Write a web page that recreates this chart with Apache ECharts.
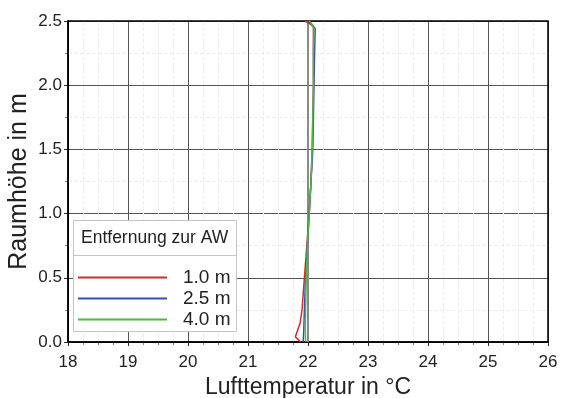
<!DOCTYPE html>
<html><head><meta charset="utf-8">
<script src="https://cdn.jsdelivr.net/npm/echarts@6/dist/echarts.min.js"></script>
<style>html,body{margin:0;padding:0;background:#fff}#c{width:561px;height:398px}</style>
</head><body><div id="c"></div>
<script>
const heights1 = [0.00, 0.04, 0.15, 0.25, 0.50, 0.75, 1.00, 1.25, 1.50, 1.75, 2.00, 2.25, 2.45, 2.47, 2.50];
const temps1   = [21.88, 21.79, 21.87, 21.90, 21.94, 21.98, 22.02, 22.05, 22.07, 22.08, 22.09, 22.09, 22.09, 22.06, 21.95];
const heights2 = [0.00, 0.10, 0.25, 0.50, 0.75, 1.00, 1.25, 1.50, 1.75, 2.00, 2.25, 2.44, 2.48, 2.50];
const temps2   = [21.92, 21.93, 21.94, 21.96, 21.99, 22.02, 22.05, 22.08, 22.09, 22.10, 22.11, 22.12, 22.05, 22.00];
const heights3 = [0.00, 0.10, 0.25, 0.50, 0.75, 1.00, 1.25, 1.50, 1.75, 2.00, 2.25, 2.44, 2.48, 2.50];
const temps3   = [21.96, 21.955, 21.96, 21.97, 21.99, 22.02, 22.05, 22.07, 22.08, 22.09, 22.09, 22.10, 22.06, 22.02];
const seriesNames = ['1.0 m', '2.5 m', '4.0 m'];
const refTemp = 22;
const refHeights = [0, 2.5];
const xTicks = [18, 19, 20, 21, 22, 23, 24, 25, 26];
const yTicks = [0.0, 0.5, 1.0, 1.5, 2.0, 2.5];
const legendTitle = 'Entfernung zur AW';
const xTitle = 'Lufttemperatur in °C';
const yTitle = 'Raumhöhe in m';

const FONT = 'Liberation Sans';
const colors = ['#d42a2a', '#3551a8', '#4cb840'];
const zip = (t, h) => t.map((v, i) => [v, h[i]]);
const dataSets = [zip(temps1, heights1), zip(temps2, heights2), zip(temps3, heights3)];

const chart = echarts.init(document.getElementById('c'), null, {renderer: 'canvas'});
const option = {
  animation: false,
  backgroundColor: '#fff',
  grid: {left: 68, right: 13, top: 21, bottom: 56, show: true, borderColor: '#000', borderWidth: 1.5, z: 1,
    containLabel: false, outerBoundsMode: 'none'},
  xAxis: {
    type: 'value', min: xTicks[0], max: xTicks[xTicks.length - 1], interval: 1,
    name: xTitle, nameLocation: 'middle', nameGap: 34, nameMoveOverlap: false,
    nameTextStyle: {fontFamily: FONT, fontSize: 23, color: '#222'},
    axisLine: {show: true, lineStyle: {color: '#000', width: 1.5}},
    axisTick: {show: true, length: 4, lineStyle: {color: '#333'}},
    minorTick: {show: true, splitNumber: 4, length: 3, lineStyle: {color: '#888'}},
    axisLabel: {fontFamily: FONT, fontSize: 17, color: '#222', margin: 12,
      formatter: v => xTicks.includes(v) ? String(v) : ''},
    splitLine: {show: true, lineStyle: {color: '#555', width: 1}},
    minorSplitLine: {show: true, lineStyle: {color: '#eeeeee', width: 1, type: 'dashed'}}
  },
  yAxis: {
    type: 'value', min: yTicks[0], max: yTicks[yTicks.length - 1], interval: 0.5,
    name: yTitle, nameLocation: 'middle', nameGap: 36, nameMoveOverlap: false,
    nameTextStyle: {fontFamily: FONT, fontSize: 25, color: '#222'},
    axisLine: {show: true, lineStyle: {color: '#000', width: 1.5}},
    axisTick: {show: true, length: 4, lineStyle: {color: '#333'}},
    minorTick: {show: true, splitNumber: 2, length: 3, lineStyle: {color: '#888'}},
    axisLabel: {fontFamily: FONT, fontSize: 17, color: '#222', margin: 6,
      formatter: v => v.toFixed(1)},
    splitLine: {show: true, lineStyle: {color: '#555', width: 1}},
    minorSplitLine: {show: true, lineStyle: {color: '#eeeeee', width: 1, type: 'dashed'}}
  },
  legend: {
    show: true, orient: 'vertical', left: 78, top: 267,
    data: seriesNames,
    icon: 'rect', itemWidth: 89, itemHeight: 2, itemGap: 0,
    textStyle: {fontFamily: FONT, fontSize: 19, color: '#222', lineHeight: 21, padding: [0, 0, 0, 11]},
    padding: 0,
    z: 10
  },
  graphic: [
    {type: 'rect', z: 8, shape: {x: 73.5, y: 220.5, width: 163, height: 111},
      style: {fill: '#fff', stroke: '#c4c4c4', lineWidth: 1}},
    {type: 'line', z: 9, shape: {x1: 73.5, y1: 255.5, x2: 236.5, y2: 255.5},
      style: {stroke: '#c4c4c4', lineWidth: 1}},
    {type: 'text', z: 9, left: 81, top: 229,
      style: {text: legendTitle, fontFamily: FONT, fontSize: 17.5, fill: '#222'}}
  ],
  series: [
    {type: 'line', name: 'ref', data: refHeights.map(h => [refTemp, h]), showSymbol: false, symbol: 'none',
      lineStyle: {color: '#8a8a8a', width: 2}, z: 2, silent: true},
  ].concat(dataSets.map((d, i) => ({
    type: 'line', name: seriesNames[i], data: d, symbol: 'none', showSymbol: false,
    color: colors[i], lineStyle: {color: colors[i], width: 1.5}, z: 3 + i
  })))
};
chart.setOption(option);
</script>
</body></html>
